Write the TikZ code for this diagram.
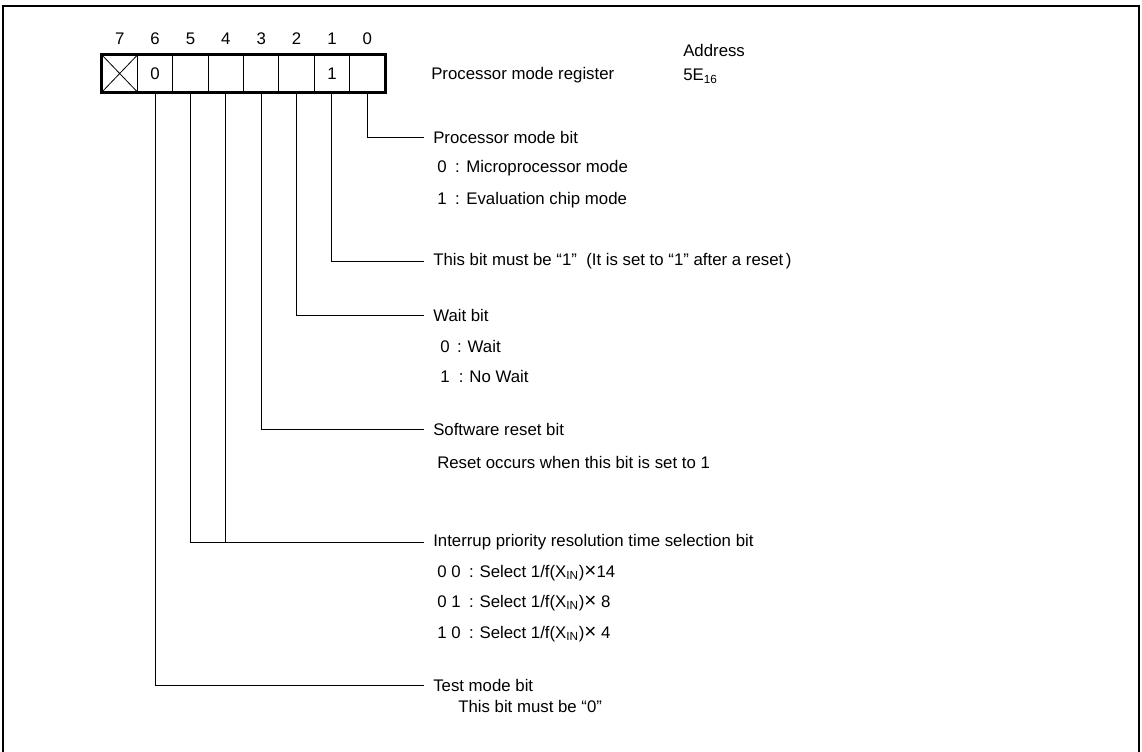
\documentclass[tikz,border=0pt]{standalone}
\usepackage{fontspec}
\setmainfont{Liberation Sans}
\newcommand{\bigtimes}{{\fontsize{15.5}{15}\selectfont\texttimes}}
\begin{document}
\begin{tikzpicture}[x=0.75pt,y=-0.75pt,
  every node/.style={font=\fontsize{12.6}{14}\selectfont},
  cell/.style={draw,line width=0.8pt,minimum width=26.55pt,minimum height=27.75pt,inner sep=0pt},
  bitnum/.style={inner sep=0pt},
  lbl/.style={anchor=west,inner xsep=6.75pt,inner ysep=0pt},
  sub/.style={anchor=west,inner sep=0pt},
  conn/.style={line width=0.7pt},
  frameline/.style={line width=1.6pt}]
\useasboundingbox (0,0) rectangle (1142,751);
\clip (0,0) rectangle (1142,751);
\draw[frameline] (3,800) -- (3,6) -- (1139,6) -- (1139,800);
% register cells
\foreach \i in {0,...,7}{
  \node[cell] (c\i) at ({102+35.375*(7-\i)+17.6875},73.5) {};
  \node[bitnum] (n\i) at ({102+35.375*(7-\i)+17.6875},39) {\i};
}
\node[inner sep=0pt] (v6) at (c6) {0};
\node[inner sep=0pt] (v1) at (c1) {1};
\draw[line width=0.6pt] (c7.north west) -- (c7.south east) (c7.north east) -- (c7.south west);
\draw[line width=1.8pt] (c7.north west) rectangle (c0.south east);
% headings
\node[sub] (title) at (431,75) {Processor mode register};
\node[sub] (addr) at (683,50) {Address};
\node[sub] (addrv) at (683,76) {5E\textsubscript{16}};
% bit 0
\node[lbl] (l0) at (424,137) {Processor mode bit};
\node[sub] (l0a) at (437,168) {0\hspace{0.5em}:\hspace{0.4em}Microprocessor mode};
\node[sub] (l0b) at (437,200) {1\hspace{0.5em}:\hspace{0.4em}Evaluation chip mode};
% bit 1
\node[lbl] (l1) at (424,261) {This bit must be ``1''\hspace{0.55em}(It is set to ``1'' after a reset\hspace{0.15em})};
% bit 2
\node[lbl] (l2) at (424,315) {Wait bit};
\node[sub] (l2a) at (440,346) {0\hspace{0.45em}:\hspace{0.35em}Wait};
\node[sub] (l2b) at (440,376) {1\hspace{0.55em}:\hspace{0.35em}No Wait};
% bit 3
\node[lbl] (l3) at (424,429) {Software reset bit};
\node[sub] (l3a) at (437,462) {Reset occurs when this bit is set to 1};
% bits 5,4
\node[lbl] (l45) at (424,542) {Interrup priority resolution time selection bit};
\node[sub] (l45a) at (437,573) {0 0\hspace{0.5em}:\hspace{0.35em}Select 1/f(X\textsubscript{IN})\bigtimes14};
\node[sub] (l45b) at (437,603) {0 1\hspace{0.5em}:\hspace{0.35em}Select 1/f(X\textsubscript{IN})\bigtimes\ 8};
\node[sub] (l45c) at (437,634) {1 0\hspace{0.5em}:\hspace{0.35em}Select 1/f(X\textsubscript{IN})\bigtimes\ 4};
% bit 6
\node[lbl] (l6) at (424,685) {Test mode bit};
\node[sub] (l6a) at (458,706) {This bit must be ``0''};
% connectors
\draw[conn] (c0.south) |- (l0.west);
\draw[conn] (c1.south) |- (l1.west);
\draw[conn] (c2.south) |- (l2.west);
\draw[conn] (c3.south) |- (l3.west);
\draw[conn] (c5.south) |- (l45.west);
\draw[conn] (c4.south) -- (c4.south |- l45.west);
\draw[conn] (c6.south) |- (l6.west);
\end{tikzpicture}
\end{document}
